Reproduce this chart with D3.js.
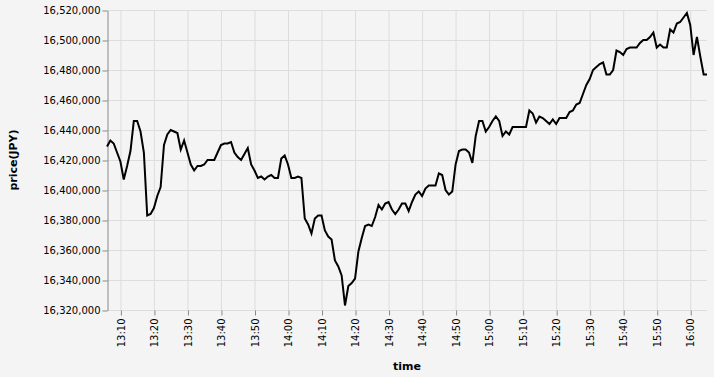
<!DOCTYPE html>
<html>
<head>
<meta charset="utf-8">
<script src="https://cdn.jsdelivr.net/npm/d3@7"></script>
<style>
  body { margin: 0; background: #f4f4f4; }
  svg { display: block; font-family: "DejaVu Sans", sans-serif; }
</style>
</head>
<body>
<div id="container"></div>
<script>
/* CONSTANTS AND GLOBALS */
const width = 714;
const height = 377;
const margin = { top: 10, right: 7, bottom: 67, left: 107 };

// one price per minute, starting 13:06
const startTime = new Date(2024, 0, 1, 13, 6);
const prices = [
  16429, 16433, 16431, 16425, 16419, 16407, 16416, 16426, 16446, 16446,
  16439, 16425, 16383, 16384, 16388, 16396, 16402, 16430, 16437, 16440,
  16439, 16438, 16427, 16433, 16425, 16417, 16413, 16416, 16416, 16417,
  16420, 16420, 16420, 16425, 16430, 16431, 16431, 16432, 16425, 16422,
  16420, 16424, 16428, 16417, 16413, 16408, 16409, 16407, 16409, 16410,
  16408, 16408, 16421, 16423, 16417, 16408, 16408, 16409, 16408, 16381,
  16377, 16371, 16381, 16383, 16383, 16373, 16369, 16367, 16353, 16349,
  16343, 16323, 16336, 16338, 16341, 16359, 16368, 16376, 16377, 16376,
  16382, 16390, 16387, 16391, 16392, 16387, 16384, 16387, 16391, 16391,
  16386, 16392, 16397, 16399, 16396, 16401, 16403, 16403, 16403, 16411,
  16410, 16400, 16397, 16399, 16417, 16426, 16427, 16427, 16425, 16418,
  16436, 16446, 16446, 16439, 16442, 16446, 16449, 16446, 16436, 16439,
  16437, 16442, 16442, 16442, 16442, 16442, 16453, 16451, 16445, 16449,
  16448, 16446, 16444, 16447, 16444, 16448, 16448, 16448, 16452, 16453,
  16457, 16458, 16464, 16470, 16474, 16480, 16482, 16484, 16485, 16477,
  16477, 16480, 16493, 16492, 16490, 16494, 16495, 16495, 16495, 16498,
  16500, 16500, 16502, 16505, 16495, 16497, 16495, 16495, 16507, 16505,
  16511, 16512, 16515, 16518, 16510, 16490, 16502, 16489, 16477, 16477
].map(d => d * 1000);

const data = prices.map((p, i) => ({ time: d3.timeMinute.offset(startTime, i), price: p }));

const yTicks = d3.range(16320000, 16520001, 20000);

/* SCALES */
const xScale = d3.scaleTime()
  .domain(d3.extent(data, d => d.time))
  .range([margin.left, width - margin.right]);

const yScale = d3.scaleLinear()
  .domain([16320000, 16520000])
  .range([height - margin.bottom, margin.top]);

/* HTML ELEMENTS */
const svg = d3.select("#container")
  .append("svg")
  .attr("width", width)
  .attr("height", height);

svg.append("rect")
  .attr("width", width)
  .attr("height", height)
  .attr("fill", "#f4f4f4");

const xTicks = d3.timeMinute.every(10).range(xScale.domain()[0], xScale.domain()[1]);

// grid
svg.append("g")
  .selectAll("line")
  .data(xTicks)
  .join("line")
  .attr("x1", d => xScale(d) + 0.5)
  .attr("x2", d => xScale(d) + 0.5)
  .attr("y1", margin.top)
  .attr("y2", height - margin.bottom)
  .attr("stroke", "#ddd");

svg.append("g")
  .selectAll("line")
  .data(yTicks)
  .join("line")
  .attr("x1", margin.left)
  .attr("x2", width - margin.right)
  .attr("y1", d => yScale(d) + 0.5)
  .attr("y2", d => yScale(d) + 0.5)
  .attr("stroke", "#ddd");

// xAxis
const xAxis = d3.axisBottom(xScale)
  .tickValues(xTicks)
  .tickFormat(d3.timeFormat("%H:%M"))
  .tickSize(5)
  .tickSizeOuter(0);

const gx = svg.append("g")
  .attr("transform", `translate(0.5, ${height - margin.bottom + 0.5})`)
  .call(xAxis);
gx.select(".domain").remove();
gx.selectAll(".tick line").attr("stroke", "#888");
gx.selectAll(".tick text")
  .attr("font-size", 10)
  .attr("font-family", "DejaVu Sans, sans-serif")
  .attr("fill", "#000")
  .attr("transform", "rotate(-90)")
  .attr("text-anchor", "end")
  .attr("x", -8)
  .attr("y", 0)
  .attr("dy", "0.32em");

// yAxis
const yAxis = d3.axisLeft(yScale)
  .tickValues(yTicks)
  .tickFormat(d3.format(","))
  .tickSize(5)
  .tickSizeOuter(0);

const gy = svg.append("g")
  .attr("transform", `translate(${margin.left + 0.5}, 0.5)`)
  .call(yAxis);
gy.select(".domain").attr("stroke", "#888");
gy.selectAll(".tick line").attr("stroke", "#888");
gy.selectAll(".tick text")
  .attr("font-size", 10)
  .attr("font-family", "DejaVu Sans, sans-serif")
  .attr("fill", "#000")
  .attr("x", -7);

// line
svg.append("path")
  .datum(data)
  .attr("fill", "none")
  .attr("stroke", "#000")
  .attr("stroke-width", 2)
  .attr("stroke-linejoin", "miter")
  .attr("d", d3.line()
    .x(d => xScale(d.time))
    .y(d => yScale(d.price)));

// xAxis title
svg.append("text")
  .attr("text-anchor", "middle")
  .attr("x", (margin.left + width - margin.right) / 2)
  .attr("y", 370)
  .style("font-weight", "bold")
  .style("font-size", "11px")
  .text("time");

// yAxis title
svg.append("text")
  .attr("text-anchor", "middle")
  .attr("transform", `translate(17, ${(margin.top + height - margin.bottom) / 2}) rotate(-90)`)
  .style("font-weight", "bold")
  .style("font-size", "11px")
  .text("price(JPY)");
</script>
</body>
</html>
